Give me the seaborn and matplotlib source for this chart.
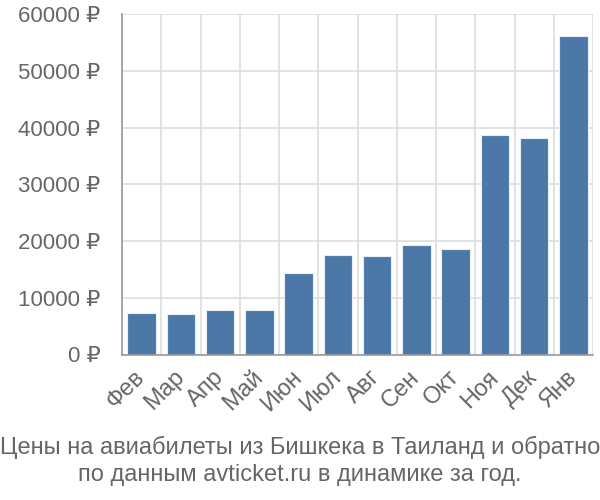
import matplotlib
matplotlib.use("Agg")
import matplotlib.pyplot as plt
import seaborn as sns
import pandas as pd
import numpy as np

months = ["Фев", "Мар", "Апр", "Май", "Июн", "Июл", "Авг", "Сен", "Окт", "Ноя", "Дек", "Янв"]
prices = [7250, 7080, 7820, 7770, 14450, 17550, 17450, 19380, 18550, 38650, 38150, 56200]
yticks = [0, 10000, 20000, 30000, 40000, 50000, 60000]
title_lines = ["Цены на авиабилеты из Бишкека в Таиланд и обратно",
               "по данным avticket.ru в динамике за год."]

sns.set_style("white")
plt.rcParams['font.family'] = ['Liberation Sans', 'DejaVu Sans']

df = pd.DataFrame({"month": months, "price": prices})

fig = plt.figure(figsize=(6, 5), dpi=100)
ax = fig.add_axes([122 / 600, 1 - 354.5 / 500, (593 - 122) / 600, (354.5 - 14.3) / 500])

sns.barplot(data=df, x="month", y="price", color="#4c78a8", saturation=1,
            width=0.73, edgecolor="#e8eef5", linewidth=0.8, ax=ax, zorder=3)

grid_c = "#dddddd"
axis_c = "#999999"
text_c = "#666666"

ax.set_ylim(0, 60000)
ax.set_xlim(-0.5, len(months) - 0.5)
ax.set_yticks(yticks)
ax.set_yticklabels([f"{v} ₽" for v in yticks])
ax.set_xticks(range(len(months)))
ax.set_xticklabels(months)
ax.set_xticks(np.arange(-0.5, len(months), 1.0), minor=True)

ax.grid(False)
ax.yaxis.grid(True, color=grid_c, linewidth=1.2, zorder=0)
ax.xaxis.grid(True, which="minor", color=grid_c, linewidth=1.2, zorder=0)

ax.tick_params(axis="y", which="major", length=14.5, width=1.2, color=grid_c,
               labelsize=16, labelcolor=text_c, pad=1)
ax.tick_params(axis="x", which="minor", length=14.5, width=1.2, color=grid_c)
ax.tick_params(axis="x", which="major", length=0, labelsize=17, labelcolor=text_c, pad=14)
for lab in ax.get_xticklabels():
    lab.set_rotation(45)
    lab.set_ha("right")
    lab.set_va("center")
    lab.set_rotation_mode("anchor")

for s in ["top", "right"]:
    ax.spines[s].set_visible(False)
for s in ["left", "bottom"]:
    ax.spines[s].set_color(axis_c)
    ax.spines[s].set_linewidth(1.2)
    ax.spines[s].set_zorder(4)

ax.set_xlabel("")
ax.set_ylabel("")

fig.text(0.5, 1 - 447 / 500, title_lines[0], ha="center", va="center", fontsize=17, color=text_c)
fig.text(0.5, 1 - 475 / 500, title_lines[1], ha="center", va="center", fontsize=17, color=text_c)

fig.savefig("out.png", dpi=100)
